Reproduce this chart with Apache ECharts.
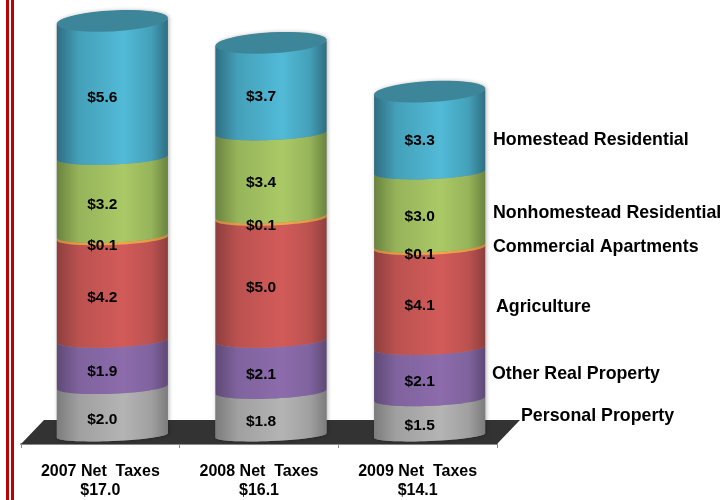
<!DOCTYPE html>
<html>
<head>
<meta charset="utf-8">
<style>html,body{margin:0;padding:0;background:#fff}#chart{width:723px;height:500px}</style>
<script src="https://cdn.jsdelivr.net/npm/echarts@6/dist/echarts.min.js"></script>
</head>
<body>
<div id="chart"></div>
<script>
// Net taxes by property class, in millions of dollars
const categories = ['2007 Net  Taxes\n$17.0', '2008 Net  Taxes\n$16.1', '2009 Net  Taxes\n$14.1'];
const personalProperty = [2.0, 1.8, 1.5];
const otherRealProperty = [1.9, 2.1, 2.1];
const agriculture = [4.2, 5.0, 4.1];
const commercialApartments = [0.1, 0.1, 0.1];
const nonhomesteadResidential = [3.2, 3.4, 3.0];
const homesteadResidential = [5.6, 3.7, 3.3];
const classNames = ['Personal Property', 'Other Real Property', 'Agriculture',
  'Commercial Apartments', 'Nonhomestead Residential', 'Homestead Residential'];

const layers = [personalProperty, otherRealProperty, agriculture,
  commercialApartments, nonhomesteadResidential, homesteadResidential];

// side shading of each layer: edge, shoulder, highlight
const shades = [
  ['#7c7c7c', '#a0a0a0', '#b4b4b4'],
  ['#5f4a76', '#7f639e', '#8d6bac'],
  ['#8e3f3e', '#bb5250', '#d25b59'],
  ['#c98735', '#e89a3e', '#f5a544'],
  ['#6a843f', '#96b45a', '#aac966'],
  ['#2f6e82', '#44a0b9', '#52bad7']
];
const capColor = '#3d8699';

const font = '"Liberation Sans", Arial, sans-serif';
const radiusX = 55.5;    // half width of a cylinder
const depthX = 12;       // the cylinders stand back from the axis line
const depthY = 8.5;

function rim(cx, cy, b, tilt, fromAngle, toAngle) {
  const pts = [];
  const n = 36;
  for (let i = 0; i <= n; i++) {
    const t = fromAngle + (toAngle - fromAngle) * i / n;
    pts.push([cx + radiusX * Math.cos(t), cy - tilt * Math.cos(t) + b * Math.sin(t)]);
  }
  return pts;
}

function sideFill(stops) {
  return new echarts.graphic.LinearGradient(0, 0, 1, 0, [
    { offset: 0, color: stops[0] },
    { offset: 0.2, color: stops[1] },
    { offset: 0.6, color: stops[2] },
    { offset: 0.85, color: stops[1] },
    { offset: 1, color: stops[0] }
  ]);
}

function stacked(values, index) {
  return values.map((v, c) => {
    let start = 0;
    for (let k = 0; k < index; k++) start += layers[k][c];
    return [c, start, start + v, v];
  });
}

// whole cylinder outline behind the layers, casting a faint soft edge
const bodySeries = {
  type: 'custom',
  coordinateSystem: 'cartesian2d',
  encode: { x: 0, y: 1 },
  data: categories.map((_, c) => [c, layers.reduce((sum, l) => sum + l[c], 0)]),
  z: 2,
  silent: true,
  renderItem(params, api) {
    const c = api.value(0);
    const low = api.coord([c, 0]);
    const high = api.coord([c, api.value(1)]);
    const cx = low[0] + depthX;
    return {
      type: 'polygon',
      shape: { points: rim(cx, low[1] - depthY, 5.5, 2.2, 0, Math.PI)
        .concat(rim(cx, high[1] - depthY, 10, 3, Math.PI, 2 * Math.PI)) },
      style: { fill: '#888', shadowColor: 'rgba(0,0,0,0.3)', shadowBlur: 4, shadowOffsetX: 1 }
    };
  }
};

function layerSeries(values, index) {
  const isBase = index === 0;
  const isTop = index === layers.length - 1;
  return {
    type: 'custom',
    coordinateSystem: 'cartesian2d',
    encode: { x: 0, y: [1, 2] },
    data: stacked(values, index),
    z: 3 + index,
    silent: true,
    renderItem(params, api) {
      const c = api.value(0);
      const low = api.coord([c, api.value(1)]);
      const high = api.coord([c, api.value(2)]);
      const cx = low[0] + depthX;
      const lowY = low[1] - depthY;
      const highY = high[1] - depthY;
      const lower = rim(cx, lowY, isBase ? 5.5 : 7, 2.2, 0, Math.PI);
      const upper = rim(cx, highY, 7, 2.2, Math.PI, 0);
      const children = [{
        type: 'polygon',
        shape: { points: lower.concat(upper) },
        style: { fill: sideFill(shades[index]) }
      }];
      if (isTop) {
        children.push({
          type: 'polygon',
          shape: { points: rim(cx, highY, 10.5, 3, 0, Math.PI * 2) },
          style: { fill: capColor }
        });
      }
      return { type: 'group', children: children };
    }
  };
}

// the dollar figures sit above every layer so thin bands do not hide them
function valueSeries(values, index) {
  return {
    type: 'custom',
    coordinateSystem: 'cartesian2d',
    encode: { x: 0, y: [1, 2] },
    data: stacked(values, index),
    z: 20,
    silent: true,
    renderItem(params, api) {
      const c = api.value(0);
      const low = api.coord([c, api.value(1)]);
      const high = api.coord([c, api.value(2)]);
      return {
        type: 'text',
        style: {
          text: '$' + api.value(3).toFixed(1),
          x: low[0] + 2,
          y: (low[1] + high[1]) / 2,
          fill: '#000',
          font: 'bold 15.5px ' + font,
          align: 'center',
          verticalAlign: 'middle'
        }
      };
    }
  };
}

// dark floor the cylinders stand on, spanning the whole plot width
const floorSeries = {
  type: 'custom',
  coordinateSystem: 'cartesian2d',
  data: [[0, 0]],
  z: 1,
  silent: true,
  renderItem(params) {
    const g = params.coordSys;
    const y = g.y + g.height;
    const back = 24;
    return {
      type: 'polygon',
      shape: { points: [
        [g.x, y], [g.x + 23, y - back],
        [g.x + g.width + 23, y - back], [g.x + g.width, y]
      ] },
      style: { fill: '#333333' }
    };
  }
};

// class names beside the last cylinder
const classLabelSpots = {
  'Homestead Residential': [493, 140],
  'Nonhomestead Residential': [493, 213],
  'Commercial Apartments': [493, 247],
  'Agriculture': [496, 307],
  'Other Real Property': [492, 374],
  'Personal Property': [521, 416]
};

const chart = echarts.init(document.getElementById('chart'), null, { renderer: 'canvas' });
chart.setOption({
  animation: false,
  backgroundColor: '#fff',
  grid: { left: 21, right: 226, top: 5, bottom: 54, containLabel: false },
  xAxis: {
    type: 'category',
    data: categories,
    boundaryGap: true,
    axisLine: { show: true, lineStyle: { color: '#8a8a8a', width: 2 } },
    axisTick: { show: true, length: 4, alignWithLabel: false, lineStyle: { color: '#8a8a8a', width: 1 } },
    axisLabel: {
      color: '#000', fontFamily: font, fontWeight: 'bold', fontSize: 16,
      lineHeight: 19, margin: 18, interval: 0
    }
  },
  yAxis: { type: 'value', min: 0, max: 18, show: false, splitLine: { show: false } },
  series: [floorSeries, bodySeries].concat(layers.map(layerSeries), layers.map(valueSeries)),
  graphic: [
    // double rule down the left of the page
    { type: 'rect', shape: { x: 6, y: 0, width: 3, height: 500 }, style: { fill: '#c00000' }, silent: true },
    { type: 'rect', shape: { x: 11, y: 0, width: 3, height: 500 }, style: { fill: '#c00000' }, silent: true }
  ].concat(classNames.map(name => ({
    type: 'text',
    silent: true,
    style: {
      text: name,
      x: classLabelSpots[name][0],
      y: classLabelSpots[name][1],
      fill: '#000',
      font: 'bold 17.8px ' + font,
      verticalAlign: 'middle'
    }
  })))
});
</script>
</body>
</html>
